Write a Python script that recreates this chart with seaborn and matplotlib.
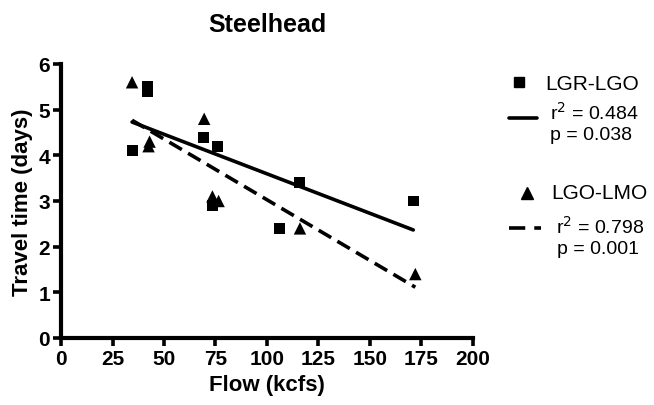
import matplotlib
matplotlib.use("Agg")
import matplotlib.pyplot as plt
from matplotlib.lines import Line2D
import seaborn as sns
import pandas as pd

# data
lgr_flow = [34.5, 42, 42, 69, 76, 73.5, 106, 116, 171]
lgr_time = [4.1, 5.5, 5.4, 4.4, 4.2, 2.9, 2.4, 3.4, 3.0]
lgo_flow = [34.5, 42.5, 43, 69.5, 73.5, 76.5, 116, 172]
lgo_time = [5.6, 4.2, 4.3, 4.8, 3.1, 3.0, 2.4, 1.4]
x_ticks = [0, 25, 50, 75, 100, 125, 150, 175, 200]
y_ticks = [0, 1, 2, 3, 4, 5, 6]
series_names = ["LGR-LGO", "LGO-LMO"]
r2_labels = ["0.484", "0.798"]
p_labels = ["0.038", "0.001"]

sns.set_style("ticks")
plt.rcParams["font.family"] = ["Liberation Sans", "DejaVu Sans"]
plt.rcParams["text.color"] = "black"
plt.rcParams["axes.labelcolor"] = "black"
plt.rcParams["xtick.color"] = "black"
plt.rcParams["ytick.color"] = "black"

df1 = pd.DataFrame({"flow": lgr_flow, "time": lgr_time})
df2 = pd.DataFrame({"flow": lgo_flow, "time": lgo_time})

fig = plt.figure(figsize=(6.54, 4.06), dpi=100)
ax = fig.add_axes([61 / 654, 1 - 339 / 406, (473 - 61) / 654, (339 - 65) / 406])

dash = (0, (4, 2))
sns.regplot(data=df1, x="flow", y="time", ax=ax, ci=None, truncate=True,
            marker="s", color="black",
            scatter_kws=dict(s=62, edgecolors="none", alpha=1, zorder=3),
            line_kws=dict(lw=2.6, ls="-", color="black"))
sns.regplot(data=df2, x="flow", y="time", ax=ax, ci=None, truncate=True,
            marker="^", color="black",
            scatter_kws=dict(s=80, edgecolors="none", alpha=1, zorder=3),
            line_kws=dict(lw=2.6, ls=dash, color="black"))

ax.set_xlim(0, 200)
ax.set_ylim(0, 6)
ax.set_xticks(x_ticks)
ax.set_yticks(y_ticks)
ax.set_xticklabels([str(t) for t in x_ticks], fontweight="bold", fontsize=15)
ax.set_yticklabels([str(t) for t in y_ticks], fontweight="bold", fontsize=15)
ax.tick_params(width=2.6, length=6, direction="out", pad=2, colors="black")
for s in ["left", "bottom"]:
    ax.spines[s].set_linewidth(3.0)
    ax.spines[s].set_color("black")
sns.despine(ax=ax)
ax.set_xlabel("Flow (kcfs)", fontweight="bold", fontsize=16, labelpad=4)
ax.set_ylabel("Travel time (days)", fontweight="bold", fontsize=16, labelpad=4)
ax.set_title("Steelhead", fontweight="bold", fontsize=18, pad=24)

# custom legend at right
def fx(px):
    return px / 654

def fy(py):
    return 1 - py / 406

fig.add_artist(Line2D([fx(519)], [fy(83)], marker="s", ms=7, color="black", ls="none"))
fig.text(fx(545), fy(84), series_names[0], fontsize=15, va="center", ha="left")
fig.add_artist(Line2D([fx(509), fx(537)], [fy(119), fy(119)], color="black", lw=2.6))
fig.text(fx(550), fy(113), r"r$^2$ = " + r2_labels[0], fontsize=14, va="center", ha="left")
fig.text(fx(550), fy(136), "p = " + p_labels[0], fontsize=14, va="center", ha="left")

fig.add_artist(Line2D([fx(527)], [fy(194)], marker="^", ms=8, color="black", ls="none"))
fig.text(fx(551), fy(194), series_names[1], fontsize=15, va="center", ha="left")
fig.add_artist(Line2D([fx(509), fx(541)], [fy(229), fy(229)], color="black", lw=2.6,
                      ls=(0, (4.5, 2.5))))
fig.text(fx(556), fy(227), r"r$^2$ = " + r2_labels[1], fontsize=14, va="center", ha="left")
fig.text(fx(557), fy(250), "p = " + p_labels[1], fontsize=14, va="center", ha="left")

fig.savefig("out.png", dpi=100)
